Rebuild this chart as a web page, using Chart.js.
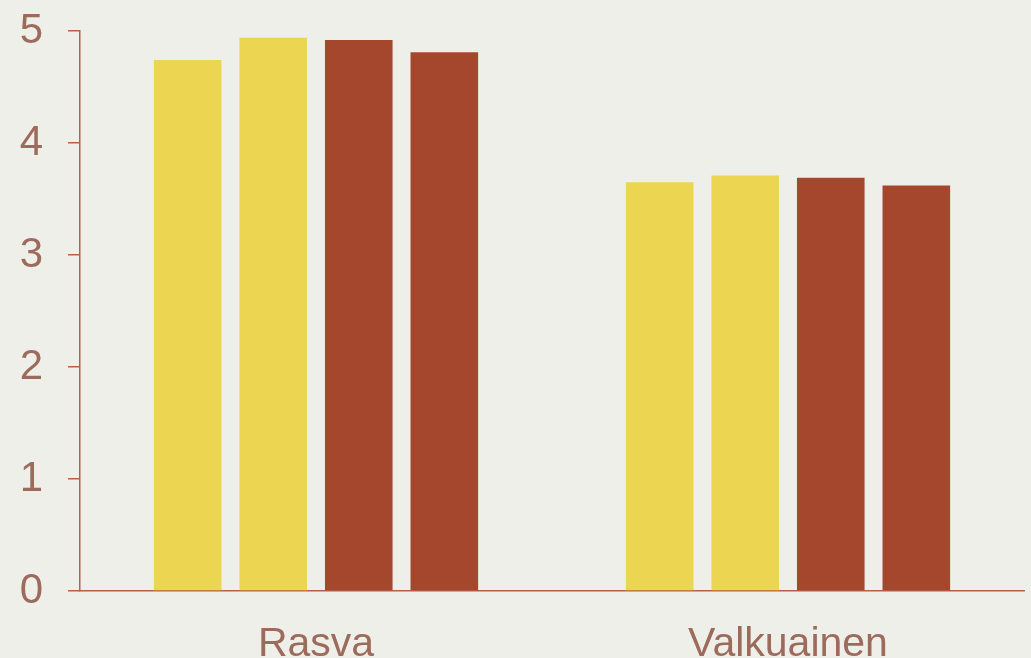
<!DOCTYPE html>
<html>
<head>
<meta charset="utf-8">
<script src="https://cdn.jsdelivr.net/npm/chart.js@4.4.0/dist/chart.umd.min.js"></script>
<style>
  html, body { margin: 0; padding: 0; background: #efefea; }
  #wrap { width: 1031px; height: 658px; }
</style>
</head>
<body>
<div id="wrap"><canvas id="chart"></canvas></div>
<script>
// categories and series values
const categories = ['Rasva', 'Valkuainen'];
const series1 = [4.74, 3.65];
const series2 = [4.94, 3.71];
const series3 = [4.92, 3.69];
const series4 = [4.81, 3.62];
const yTicks = [0, 1, 2, 3, 4, 5];

const yellow = '#ecd651';
const brown = '#a5472c';
const textColor = '#9c6b5b';
const axisColor = '#b5614a';

const ctx = document.getElementById('chart').getContext('2d');
const chart = new Chart(ctx, {
    type: 'bar',
    data: {
        labels: categories,
        datasets: [
            { label: 's1', data: series1, backgroundColor: yellow },
            { label: 's2', data: series2, backgroundColor: yellow },
            { label: 's3', data: series3, backgroundColor: brown },
            { label: 's4', data: series4, backgroundColor: brown }
        ]
    },
    options: {
        responsive: true,
        maintainAspectRatio: false,
        animation: false,
        layout: { padding: { top: 31, right: 7, left: 0, bottom: 0 } },
        datasets: {
            bar: { categoryPercentage: 0.725, barPercentage: 0.79 }
        },
        plugins: {
            legend: { display: false },
            tooltip: { enabled: false }
        },
        scales: {
            x: {
                grid: { display: true, drawOnChartArea: false, drawTicks: false },
                border: { display: true, color: axisColor, width: 1.5 },
                ticks: {
                    color: textColor,
                    padding: 29,
                    font: { family: 'Liberation Sans, Arial, sans-serif', size: 41 }
                },
                afterFit: (s) => { s.height = 67; s.paddingLeft = 0; s.paddingRight = 0; }
            },
            y: {
                min: 0,
                max: 5,
                afterBuildTicks: (s) => { s.ticks = yTicks.map(v => ({ value: v })); },
                grid: { display: true, drawOnChartArea: false, drawTicks: true, tickLength: 12, color: axisColor, lineWidth: 1.5 },
                border: { display: true, color: axisColor, width: 1.5 },
                ticks: {
                    color: textColor,
                    padding: 25,
                    font: { family: 'Liberation Sans, Arial, sans-serif', size: 42 }
                },
                afterFit: (s) => { s.width = 80; s.paddingTop = 0; s.paddingBottom = 0; }
            }
        }
    }
});
</script>
</body>
</html>
